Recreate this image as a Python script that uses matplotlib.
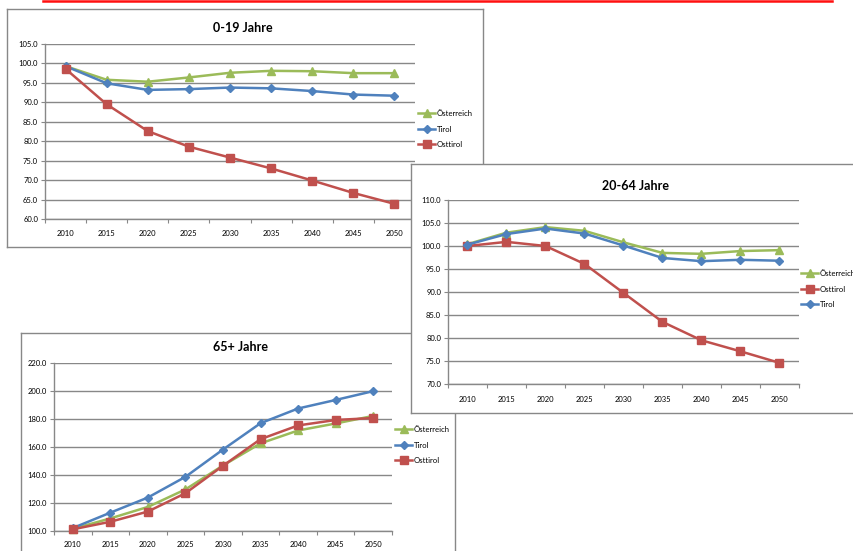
import matplotlib
matplotlib.use("Agg")
import matplotlib.pyplot as plt
from matplotlib.lines import Line2D
from matplotlib.ticker import FixedLocator, FormatStrFormatter

plt.rcParams['font.family'] = ['Lato', 'DejaVu Sans']

W, H = 854, 551

years = ["2010", "2015", "2020", "2025", "2030", "2035", "2040", "2045", "2050"]

# 0-19 Jahre (Index 2010 ~ 100)
jung_oesterreich = [99.3, 95.8, 95.3, 96.4, 97.6, 98.1, 98.0, 97.5, 97.5]
jung_tirol = [99.3, 94.9, 93.2, 93.4, 93.8, 93.6, 92.9, 92.0, 91.7]
jung_osttirol = [98.6, 89.5, 82.6, 78.6, 75.8, 73.0, 69.9, 66.7, 63.9]

# 20-64 Jahre
mitte_oesterreich = [100.4, 102.9, 104.1, 103.3, 100.8, 98.5, 98.3, 98.9, 99.1]
mitte_tirol = [100.3, 102.6, 103.8, 102.7, 100.1, 97.4, 96.7, 97.0, 96.8]
mitte_osttirol = [100.0, 100.9, 100.0, 96.1, 89.8, 83.5, 79.5, 77.1, 74.6]

# 65+ Jahre
alt_oesterreich = [101.5, 109.0, 117.2, 129.7, 146.8, 162.6, 171.8, 176.8, 182.2]
alt_tirol = [102.1, 113.1, 123.9, 138.7, 158.2, 177.0, 187.5, 193.6, 199.9]
alt_osttirol = [101.2, 106.6, 113.9, 127.0, 146.6, 165.6, 175.4, 179.3, 180.7]

GREEN = "#9BBB59"
BLUE = "#4F81BD"
RED = "#C0504D"
GRAY = "#888888"

STYLES = {
    "Österreich": dict(color=GREEN, marker="^", markersize=5.5),
    "Tirol": dict(color=BLUE, marker="D", markersize=3.6),
    "Osttirol": dict(color=RED, marker="s", markersize=5.5),
}


def px_rect(x0, y0, x1, y1):
    return [x0 / W, 1 - y1 / H, (x1 - x0) / W, (y1 - y0) / H]


fig = plt.figure(figsize=(W / 100, H / 100), dpi=100)
fig.patch.set_facecolor("white")

# red rule at the very top
fig.add_artist(Line2D([43 / W, 832 / W], [1 - 0.8 / H, 1 - 0.8 / H],
                      color="#FF1010", lw=1.8))


def chart(frame, plot, title, title_xy, series, order, ymin, ymax, ystep,
          legend_xy, xpad):
    fax = fig.add_axes(px_rect(*frame))
    fax.set_xticks([])
    fax.set_yticks([])
    fax.set_facecolor("white")
    for s in fax.spines.values():
        s.set_color(GRAY)
        s.set_linewidth(1.0)
    fax.text(title_xy[0] / W, 1 - title_xy[1] / H, title, transform=fig.transFigure,
             ha="center", va="center", fontsize=9, fontweight="bold")

    ax = fig.add_axes(px_rect(*plot))
    ax.patch.set_visible(False)
    x = list(range(len(years)))
    for name in order:
        st = STYLES[name]
        ax.plot(x, series[name], color=st["color"], lw=1.8, marker=st["marker"],
                markersize=st["markersize"], markerfacecolor=st["color"],
                markeredgecolor=st["color"], label=name, clip_on=False, zorder=3)

    ax.set_xlim(-0.5, len(years) - 0.5)
    ax.set_ylim(ymin, ymax)
    yt = []
    v = ymin
    while v <= ymax + 1e-9:
        yt.append(v)
        v += ystep
    ax.set_yticks(yt)
    ax.yaxis.set_major_formatter(FormatStrFormatter("%.1f"))
    ax.yaxis.grid(True, color=GRAY, lw=1.0)
    ax.set_axisbelow(True)

    ax.xaxis.set_major_locator(FixedLocator([i - 0.5 for i in range(len(years) + 1)]))
    ax.xaxis.set_major_formatter(plt.NullFormatter())
    ax.xaxis.set_minor_locator(FixedLocator(x))
    ax.set_xticklabels(years, minor=True)
    ax.tick_params(axis="x", which="major", length=3, color=GRAY, direction="out")
    ax.tick_params(axis="x", which="minor", length=0, pad=xpad, labelsize=5.5)
    ax.tick_params(axis="y", length=3, color=GRAY, pad=2, labelsize=5.5)

    for side in ("top", "right"):
        ax.spines[side].set_visible(False)
    for side in ("left", "bottom"):
        ax.spines[side].set_color(GRAY)
        ax.spines[side].set_linewidth(1.0)

    ax.legend(loc="center left", bbox_to_anchor=(legend_xy[0] / W, 1 - legend_xy[1] / H),
              bbox_transform=fig.transFigure, frameon=False, fontsize=5.6,
              handlelength=2.2, handletextpad=0.2, labelspacing=1.1,
              borderpad=0, borderaxespad=0)
    return ax


chart((7, 9, 483, 247), (45, 44, 415, 219), "0-19 Jahre", (243, 28),
      {"Österreich": jung_oesterreich, "Tirol": jung_tirol, "Osttirol": jung_osttirol},
      ["Österreich", "Tirol", "Osttirol"], 60, 105, 5, (418, 129), 8)

chart((21, 333, 455, 580), (54, 363, 392, 531), "65+ Jahre", (241, 347),
      {"Österreich": alt_oesterreich, "Tirol": alt_tirol, "Osttirol": alt_osttirol},
      ["Österreich", "Tirol", "Osttirol"], 100, 220, 20, (395, 445), 7)

chart((411, 164, 880, 413), (448, 200, 799, 384), "20-64 Jahre", (635, 186),
      {"Österreich": mitte_oesterreich, "Tirol": mitte_tirol, "Osttirol": mitte_osttirol},
      ["Österreich", "Osttirol", "Tirol"], 70, 110, 5, (801, 289), 8.5)

fig.savefig("out.png", dpi=100, facecolor="white")
